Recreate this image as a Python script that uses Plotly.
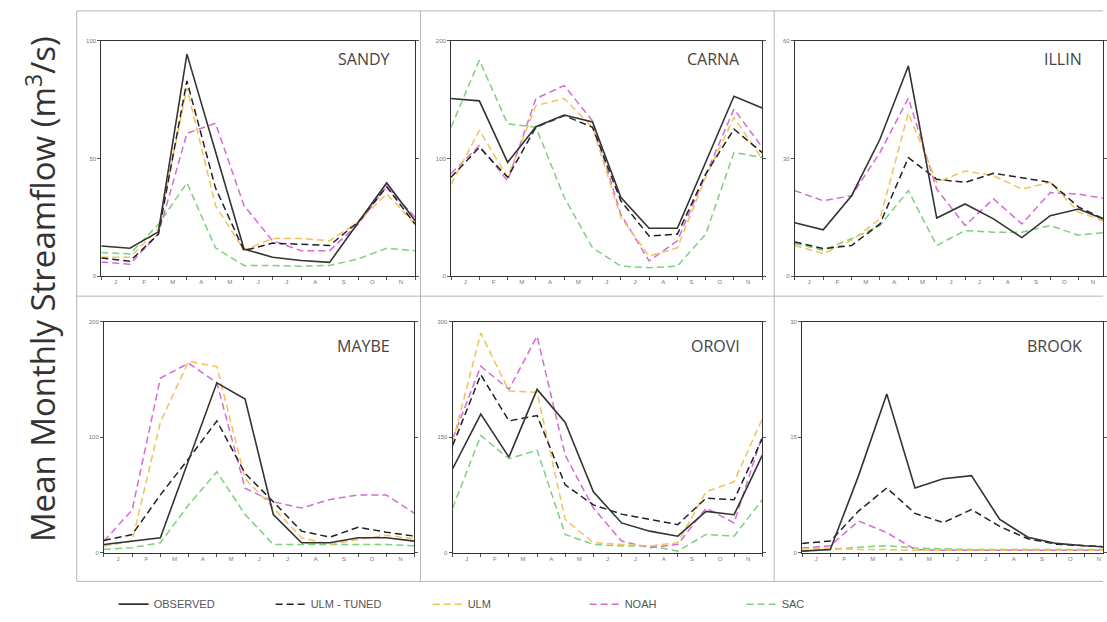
import plotly.graph_objects as go

W, H = 1107, 622

# ---------------- data ----------------
MONTH_INDEX = list(range(12))
MONTH_LABELS = ["J", "F", "M", "A", "M", "J", "J", "A", "S", "O", "N"]
SERIES = ["OBSERVED", "ULM - TUNED", "ULM", "NOAH", "SAC"]

SANDY_OBS  = [12.8, 11.8, 18.8, 94.4, 53.0, 11.5, 8.0, 6.6, 5.8, 22.6, 39.6, 23.5]
SANDY_ULMT = [7.7, 6.3, 17.8, 83.0, 37.5, 10.8, 14.0, 13.6, 13.0, 23.0, 38.0, 22.0]
SANDY_ULM  = [8.0, 8.0, 20.0, 80.0, 30.0, 11.0, 16.0, 16.0, 15.0, 23.0, 35.0, 22.0]
SANDY_NOAH = [6.0, 5.0, 18.0, 60.7, 65.0, 30.0, 15.0, 10.8, 10.8, 22.0, 38.0, 25.0]
SANDY_SAC  = [10.0, 9.4, 22.0, 39.6, 12.0, 4.5, 4.5, 4.2, 4.5, 7.3, 11.8, 10.8]

CARNA_OBS  = [151, 149, 96.7, 127, 137, 131, 67, 40.7, 40.7, 96.7, 153, 143]
CARNA_ULMT = [84, 109.5, 84, 126.6, 136.5, 126.6, 64, 34, 35.6, 86.8, 125, 105]
CARNA_ULM  = [78, 124, 84, 145, 151, 126.6, 50, 17, 24, 84, 135, 99.6]
CARNA_NOAH = [87, 111, 81, 151, 162, 132, 52.6, 12.8, 30, 86.8, 142, 109.5]
CARNA_SAC  = [126.6, 183.5, 129.4, 126.6, 67, 24, 8.5, 7, 8.5, 35.6, 105, 101]

ILLIN_OBS  = [13.6, 11.8, 20.5, 34.9, 53.6, 14.8, 18.4, 14.6, 9.8, 15.4, 17.1, 14.2]
ILLIN_ULMT = [8.7, 7.0, 7.8, 13.3, 30.2, 24.7, 23.9, 26.2, 25.1, 23.9, 17.6, 14.2]
ILLIN_ULM  = [7.8, 5.7, 9.1, 14.6, 41.6, 23.9, 26.8, 25.6, 22.2, 23.9, 16.3, 13.8]
ILLIN_NOAH = [21.8, 19.2, 20.5, 31.5, 45.4, 22.2, 12.9, 19.7, 13.3, 21.3, 20.9, 19.7]
ILLIN_SAC  = [8.3, 6.6, 9.5, 12.9, 21.8, 7.8, 11.6, 11.2, 11.2, 12.9, 10.4, 11.2]

MAYBE_OBS  = [7.1, 10.0, 12.9, 80.0, 147, 133, 33, 8.6, 8.6, 12.9, 12.9, 10.0]
MAYBE_ULMT = [10.6, 15.7, 50, 81.4, 114, 68.6, 44, 18.6, 13.4, 22, 17.7, 14.3]
MAYBE_ULM  = [5.7, 10.0, 113, 165.7, 161, 64, 38.6, 12.9, 7.1, 11.4, 15, 12]
MAYBE_NOAH = [10.0, 37, 151, 164, 147, 55.7, 44, 38.6, 46, 50, 50, 34]
MAYBE_SAC  = [2.9, 4.3, 8.6, 41.4, 70, 33, 7.1, 7.1, 7.1, 7.0, 7.0, 6.0]

OROVI_OBS  = [109, 180, 124, 212, 169, 79, 38.6, 27.9, 21.4, 53.6, 49.3, 126.4]
OROVI_ULMT = [139, 231, 171, 178, 88, 62, 50, 43, 36.4, 70.7, 68.6, 148]
OROVI_ULM  = [143.6, 285, 210, 208, 43, 12.9, 10.7, 8.6, 12.9, 79, 92, 173.6]
OROVI_NOAH = [148, 242, 212, 281, 126.4, 57.9, 15, 6.4, 10.7, 57.9, 38.6, 152]
OROVI_SAC  = [57.9, 152, 122, 133, 23.6, 10.7, 8.6, 8.6, 2.0, 23.6, 21.4, 68.6]

BROOK_OBS  = [0.2, 0.4, 10.0, 20.6, 8.4, 9.6, 10.0, 4.3, 2.0, 1.2, 0.9, 0.7]
BROOK_ULMT = [1.2, 1.5, 5.4, 8.4, 5.1, 3.9, 5.6, 3.4, 1.8, 1.1, 0.9, 0.7]
BROOK_ULM  = [0.5, 0.6, 0.4, 0.4, 0.3, 0.3, 0.3, 0.3, 0.3, 0.3, 0.3, 0.3]
BROOK_NOAH = [0.6, 0.9, 4.1, 2.6, 0.4, 0.3, 0.3, 0.3, 0.3, 0.3, 0.3, 0.3]
BROOK_SAC  = [0.2, 0.4, 0.7, 0.9, 0.6, 0.5, 0.4, 0.4, 0.4, 0.4, 0.4, 0.4]

PANELS = [
    ("SANDY", [SANDY_OBS, SANDY_ULMT, SANDY_ULM, SANDY_NOAH, SANDY_SAC], 100, [0, 50, 100]),
    ("CARNA", [CARNA_OBS, CARNA_ULMT, CARNA_ULM, CARNA_NOAH, CARNA_SAC], 200, [0, 100, 200]),
    ("ILLIN", [ILLIN_OBS, ILLIN_ULMT, ILLIN_ULM, ILLIN_NOAH, ILLIN_SAC], 60, [0, 30, 60]),
    ("MAYBE", [MAYBE_OBS, MAYBE_ULMT, MAYBE_ULM, MAYBE_NOAH, MAYBE_SAC], 200, [0, 100, 200]),
    ("OROVI", [OROVI_OBS, OROVI_ULMT, OROVI_ULM, OROVI_NOAH, OROVI_SAC], 300, [0, 150, 300]),
    ("BROOK", [BROOK_OBS, BROOK_ULMT, BROOK_ULM, BROOK_NOAH, BROOK_SAC], 30, [0, 15, 30]),
]

# ---------------- layout geometry (pixels) ----------------
PANEL_X = [(101.7, 416.7), (452.7, 765.0), (797.7, 1111.0),
           (104.3, 416.0), (454.3, 765.0), (805.0, 1116.7)]
PANEL_Y = [(38.3, 275.7)] * 3 + [(321.7, 555.0)] * 3
TITLE_RIGHT = [393, 745, 1088, 393, 745, 1088]
TITLE_Y = [57, 57, 57, 346, 346, 346]

STYLE = {
    "OBSERVED":    dict(color="#333333", dash="solid", width=1.6),
    "ULM - TUNED": dict(color="#222222", dash="7px,4px", width=1.5),
    "ULM":         dict(color="#F2C25A", dash="7px,4px", width=1.5),
    "NOAH":        dict(color="#D46CD4", dash="7px,4px", width=1.5),
    "SAC":         dict(color="#7DD07D", dash="7px,4px", width=1.5),
}

fig = go.Figure()
draw_order = [4, 3, 2, 1, 0]

for p, (name, series, ymax, yticks) in enumerate(PANELS):
    n = p + 1
    xs = "x" if n == 1 else f"x{n}"
    ys = "y" if n == 1 else f"y{n}"
    for k in draw_order:
        sname = SERIES[k]
        st = STYLE[sname]
        fig.add_trace(go.Scatter(
            x=MONTH_INDEX, y=series[k], mode="lines", name=sname,
            line=dict(color=st["color"], dash=st["dash"], width=st["width"]),
            xaxis=xs, yaxis=ys, legendgroup=sname, showlegend=(p == 0),
            legendrank=k + 1, hoverinfo="skip"))

    x0, x1 = PANEL_X[p]
    y0, y1 = PANEL_Y[p]
    dx = (x1 - x0) / 11.0
    xr_end = 11.0
    dom_x1 = x1
    if x1 > W:
        dom_x1 = W
        xr_end = (W - x0) / dx
    xa = dict(
        domain=[x0 / W, dom_x1 / W], range=[0, xr_end],
        tickvals=[i + 0.5 for i in range(11)], ticktext=MONTH_LABELS,
        ticks="", showgrid=False, zeroline=False,
        showline=True, linecolor="#333333", linewidth=1, mirror=True,
        minor=dict(tickvals=MONTH_INDEX, ticks="outside", ticklen=3,
                   tickcolor="#555555", showgrid=False),
        tickfont=dict(size=6, color="#777777", family="Liberation Sans"),
        anchor=ys, fixedrange=True,
    )
    ya = dict(
        domain=[1 - y1 / H, 1 - y0 / H], range=[0, ymax],
        tickvals=yticks, ticks="outside", ticklen=3, tickcolor="#555555",
        showgrid=False, zeroline=False,
        showline=True, linecolor="#333333", linewidth=1, mirror="ticks",
        tickfont=dict(size=6, color="#777777", family="Liberation Sans"),
        anchor=xs, fixedrange=True,
    )
    fig.layout["xaxis" if n == 1 else f"xaxis{n}"] = xa
    fig.layout["yaxis" if n == 1 else f"yaxis{n}"] = ya

    fig.add_annotation(
        text=name, xref="paper", yref="paper",
        x=TITLE_RIGHT[p] / W, y=1 - TITLE_Y[p] / H,
        xanchor="right", yanchor="middle", showarrow=False,
        font=dict(size=16, color="#444444", family="Open Sans"))

# outer frame
FRAME_GRAY = "#b5b5b5"
for (xa_, ya_, xb_, yb_) in [(77, 8, W, 8), (77, 584, W, 584), (77, 296, W, 296),
                              (77, 8, 77, 584), (422, 8, 422, 584), (777, 8, 777, 584)]:
    fig.add_shape(type="line", xref="paper", yref="paper",
                  x0=xa_ / W, y0=1 - ya_ / H, x1=xb_ / W, y1=1 - yb_ / H,
                  line=dict(color=FRAME_GRAY, width=1), layer="below")

fig.add_annotation(
    text="Mean Monthly Streamflow (m<sup>3</sup>/s)", xref="paper", yref="paper",
    x=41 / W, y=1 - 289 / H, textangle=-90, showarrow=False,
    xanchor="center", yanchor="middle",
    font=dict(size=33, color="#333333", family="Open Sans"))

fig.update_layout(
    width=W, height=H, margin=dict(l=0, r=0, t=0, b=0),
    paper_bgcolor="white", plot_bgcolor="white",
    showlegend=True,
    legend=dict(orientation="h", x=508 / W, xanchor="center",
                y=1 - 607 / H, yanchor="middle",
                font=dict(size=11, color="#555555", family="Liberation Sans"),
                bgcolor="rgba(0,0,0,0)", itemwidth=30,
                entrywidth=112, entrywidthmode="pixels"),
)

fig.write_html("out.html")
